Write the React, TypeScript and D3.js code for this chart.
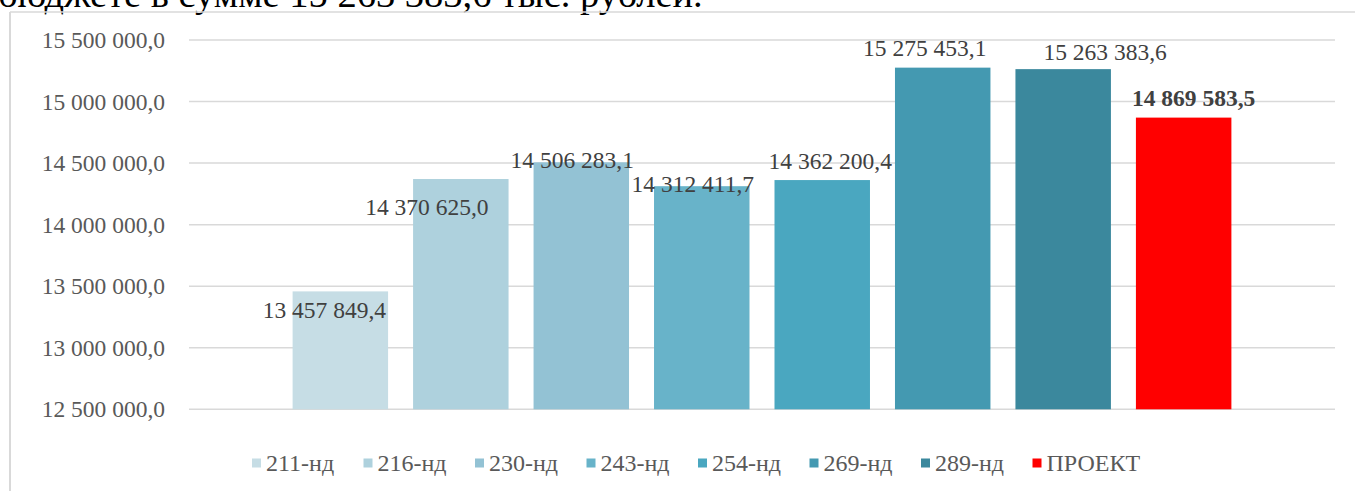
import React from "react";
import * as d3 from "d3";

// data
const categories = ["211-нд", "216-нд", "230-нд", "243-нд", "254-нд", "269-нд", "289-нд", "ПРОЕКТ"];
const values = [13457849.4, 14370625.0, 14506283.1, 14312411.7, 14362200.4, 15275453.1, 15263383.6, 14869583.5];
const yTicks = [12500000, 13000000, 13500000, 14000000, 14500000, 15000000, 15500000];

// styles
const colors = ["#c6dde5", "#aed1dd", "#93c2d4", "#68b3c9", "#4aa7c0", "#4499b1", "#3b889d", "#ff0000"];
// manual label nudges (dx, dy) relative to bar top centre, as in the original
const labelShift = [
  [-16, 19], [-34, 28], [-9, -2], [-9, -2], [8, -19], [-18, -19.5], [42, -17.5], [10, -19.5],
];

const W = 1355;
const H = 491;
const FONT = "'Liberation Serif', 'Times New Roman', serif";

const locale = d3.formatLocale({ decimal: ",", thousands: " ", grouping: [3], currency: ["", ""] });
const fmt = locale.format(",.1f");

export default function App() {
  const plotLeft = 189;
  const plotRight = 1335;

  const y = d3.scaleLinear().domain([12500000, 15500000]).range([409.3, 40]);
  const x = d3
    .scaleBand<string>()
    .domain(categories)
    .range([plotLeft, plotRight])
    .paddingInner(0.2075)
    .paddingOuter(0.86);

  // legend layout
  const legendStart = 252;
  const legendStep = 111.5;
  const legendY = 463;

  return (
    <svg
      width={W}
      height={H}
      style={{ position: "absolute", left: 0, top: 0, background: "#fff" }}
      fontFamily={FONT}
    >
      {/* cut-off document text above the chart (cropped in the original too) */}
      <text x={-2} y={6.5} fontSize={38.5} fill="#000">
        бюджете в сумме 15 263 383,6 тыс. рублей.
      </text>

      {/* chart frame */}
      <line x1={10} x2={W} y1={12} y2={12} stroke="#d9d9d9" strokeWidth={1.5} />
      <line x1={10} x2={10} y1={12} y2={H} stroke="#d9d9d9" strokeWidth={2} />

      {/* gridlines + y axis labels */}
      {yTicks.map((t) => (
        <g key={t}>
          <line x1={plotLeft} x2={plotRight} y1={y(t)} y2={y(t)} stroke="#d9d9d9" strokeWidth={1.5} />
          <text
            x={165}
            y={y(t)}
            textAnchor="end"
            dominantBaseline="central"
            fontSize={23.5}
            fill="#595959"
          >
            {fmt(t)}
          </text>
        </g>
      ))}

      {/* bars */}
      {categories.map((c, i) => (
        <rect
          key={c}
          x={x(c)}
          y={y(values[i])}
          width={x.bandwidth()}
          height={y(12500000) - y(values[i])}
          fill={colors[i]}
        />
      ))}

      {/* value labels */}
      {categories.map((c, i) => (
        <text
          key={c}
          x={(x(c) as number) + x.bandwidth() / 2 + labelShift[i][0]}
          y={y(values[i]) + labelShift[i][1]}
          textAnchor="middle"
          dominantBaseline="central"
          fontSize={23.5}
          fontWeight={i === categories.length - 1 ? "bold" : "normal"}
          fill="#404040"
        >
          {fmt(values[i])}
        </text>
      ))}

      {/* legend */}
      {categories.map((c, i) => (
        <g key={c} transform={`translate(${legendStart + i * legendStep},${legendY})`}>
          <rect x={0} y={-4.5} width={9} height={9} fill={colors[i]} />
          <text x={14} y={0} dominantBaseline="central" fontSize={24} fill="#595959">
            {c}
          </text>
        </g>
      ))}
    </svg>
  );
}
